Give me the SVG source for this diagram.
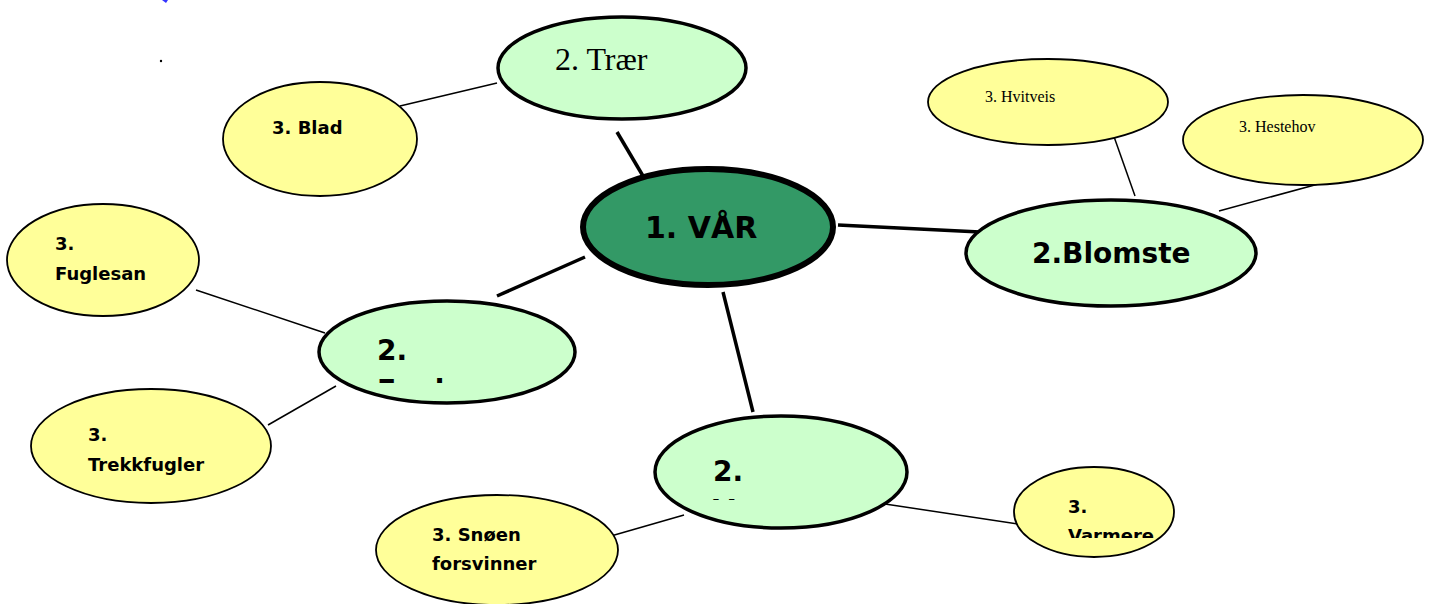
<svg xmlns="http://www.w3.org/2000/svg" width="1434" height="604" viewBox="0 0 1434 604">
<style>
.l2{fill:#ccffcc;stroke:#000;stroke-width:3.5}
.l3{fill:#ffff99;stroke:#000;stroke-width:1.8}
.root{fill:#339966;stroke:#000;stroke-width:6}
.thick{stroke:#000;stroke-width:3.5;fill:none}
.thin{stroke:#000;stroke-width:1.5;fill:none}
.b{font-family:"Comic Sans MS","DejaVu Sans",sans-serif;font-weight:bold;fill:#000}
.s{font-family:"Liberation Serif",serif;fill:#000}
</style>
<defs>
<clipPath id="cf"><rect x="300" y="300" width="300" height="83"/></clipPath>
<clipPath id="cv"><rect x="640" y="410" width="300" height="90"/></clipPath>
<clipPath id="cw"><rect x="1000" y="460" width="200" height="78"/></clipPath>
</defs>
<rect width="1434" height="604" fill="#fff"/>
<path d="M162 0 L168 0 L166 3 Z" fill="#3333ff"/>
<circle cx="161" cy="61" r="1.2" fill="#000"/>
<g id="connectors">
<line class="thin" x1="400" y1="106" x2="497" y2="83"/>
<line class="thick" x1="617" y1="132" x2="643" y2="176"/>
<line class="thick" x1="838" y1="225" x2="980" y2="232"/>
<line class="thick" x1="585" y1="257" x2="497" y2="296"/>
<line class="thick" x1="723" y1="292" x2="753" y2="412"/>
<line class="thin" x1="1112" y1="131" x2="1135" y2="196"/>
<line class="thin" x1="1322" y1="183" x2="1219" y2="211"/>
<line class="thin" x1="196" y1="290" x2="325" y2="333"/>
<line class="thin" x1="268" y1="425" x2="336" y2="386"/>
<line class="thin" x1="604" y1="538" x2="684" y2="515"/>
<line class="thin" x1="885" y1="504" x2="1018" y2="524"/>
</g>
<g id="traer">
<ellipse class="l2" cx="622" cy="68" rx="124" ry="51"/>
<text class="s" x="555" y="70" font-size="32">2. Trær</text>
</g>
<g id="blad">
<ellipse class="l3" cx="320" cy="139" rx="97" ry="57"/>
<text class="b" x="272" y="134" font-size="18">3. Blad</text>
</g>
<g id="fuglesan">
<ellipse class="l3" cx="103" cy="260" rx="96" ry="56"/>
<text class="b" x="55" y="250" font-size="18">3.</text>
<text class="b" x="55" y="280" font-size="18">Fuglesan</text>
</g>
<g id="trekkfugler">
<ellipse class="l3" cx="151" cy="446" rx="120" ry="57"/>
<text class="b" x="88" y="441" font-size="18">3.</text>
<text class="b" x="88" y="471" font-size="18">Trekkfugler</text>
</g>
<g id="fugler">
<ellipse class="l2" cx="447" cy="352" rx="128" ry="51"/>
<g clip-path="url(#cf)">
<text class="b" x="377" y="360" font-size="28">2.</text>
<text class="b" x="377" y="400" font-size="28">Fugler</text>
</g>
</g>
<g id="var">
<ellipse class="root" cx="708" cy="227" rx="125" ry="58"/>
<text class="b" x="645" y="238" font-size="30">1. VÅR</text>
</g>
<g id="blomster">
<ellipse class="l2" cx="1111" cy="253" rx="145" ry="53"/>
<text class="b" x="1032" y="263" font-size="28">2.Blomste</text>
</g>
<g id="hvitveis">
<ellipse class="l3" cx="1048" cy="102" rx="120" ry="43"/>
<text class="s" x="985" y="102" font-size="16">3. Hvitveis</text>
</g>
<g id="hestehov">
<ellipse class="l3" cx="1303" cy="140" rx="120" ry="45"/>
<text class="s" x="1239" y="132" font-size="16">3. Hestehov</text>
</g>
<g id="vaeret">
<ellipse class="l2" cx="781" cy="472" rx="126" ry="56"/>
<g clip-path="url(#cv)">
<text class="b" x="713" y="481" font-size="28">2.</text>
<text class="b" x="713" y="520" font-size="28">Været</text>
</g>
</g>
<g id="snoen">
<ellipse class="l3" cx="497" cy="550" rx="121" ry="55"/>
<text class="b" x="432" y="541" font-size="18">3. Snøen</text>
<text class="b" x="432" y="570" font-size="18">forsvinner</text>
</g>
<g id="varmere">
<ellipse class="l3" cx="1094" cy="512" rx="80" ry="45"/>
<g clip-path="url(#cw)">
<text class="b" x="1068" y="513" font-size="18">3.</text>
<text class="b" x="1068" y="542" font-size="18">Varmere</text>
</g>
</g>
</svg>
